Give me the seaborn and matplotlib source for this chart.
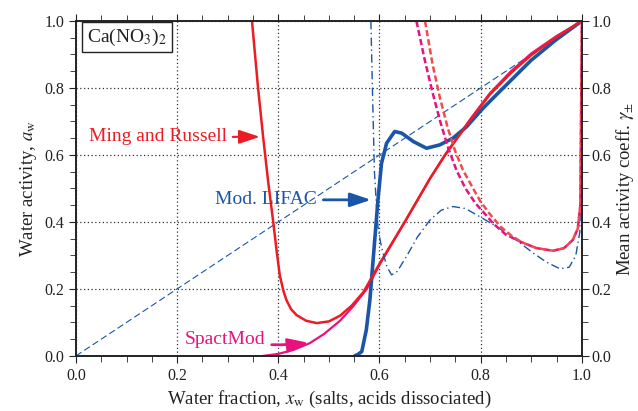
import numpy as np
import pandas as pd
import matplotlib
matplotlib.use("Agg")
import matplotlib.pyplot as plt
from matplotlib.ticker import MultipleLocator
import seaborn as sns

# --- data ---
# water activity curves (left axis)
ideal_x = [0.0, 1.0]
ideal_y = [0.0, 1.0]

ming_x = [0.348, 0.360, 0.370, 0.380, 0.390, 0.397, 0.403, 0.410, 0.416, 0.425, 0.436,
          0.455, 0.476, 0.500, 0.522, 0.545, 0.568, 0.600, 0.650, 0.700, 0.730, 0.780,
          0.818, 0.860, 0.900, 0.950, 1.000]
ming_y = [1.000, 0.800, 0.654, 0.520, 0.400, 0.310, 0.240, 0.195, 0.167, 0.140, 0.122,
          0.105, 0.098, 0.103, 0.120, 0.150, 0.190, 0.275, 0.400, 0.530, 0.600, 0.705,
          0.780, 0.845, 0.898, 0.952, 1.000]

spact_x = [0.370, 0.400, 0.430, 0.462, 0.490, 0.522, 0.548, 0.575, 0.600, 0.650, 0.700,
           0.730, 0.780, 0.818, 0.860, 0.900, 0.950, 1.000]
spact_y = [0.000, 0.006, 0.018, 0.038, 0.065, 0.105, 0.148, 0.200, 0.272, 0.400, 0.530,
           0.602, 0.708, 0.784, 0.850, 0.903, 0.955, 1.000]

lifac_x = [0.551, 0.558, 0.565, 0.574, 0.581, 0.589, 0.597, 0.604, 0.614, 0.630, 0.644,
           0.667, 0.693, 0.719, 0.745, 0.772, 0.805, 0.838, 0.870, 0.900, 0.950, 1.000]
lifac_y = [0.000, 0.005, 0.013, 0.078, 0.167, 0.316, 0.466, 0.575, 0.635, 0.670, 0.665,
           0.640, 0.620, 0.630, 0.650, 0.684, 0.740, 0.790, 0.838, 0.883, 0.945, 1.000]

# mean activity coefficient curves (right axis)
lifac_g_x = [0.583, 0.586, 0.590, 0.594, 0.597, 0.602, 0.607, 0.615, 0.624, 0.635, 0.653,
             0.675, 0.700, 0.722, 0.745, 0.770, 0.798, 0.825, 0.851, 0.878, 0.904, 0.930,
             0.957, 0.975, 0.988, 0.996, 0.999, 1.000]
lifac_g_y = [1.000, 0.800, 0.550, 0.450, 0.386, 0.340, 0.307, 0.265, 0.242, 0.252, 0.296,
             0.355, 0.406, 0.435, 0.446, 0.440, 0.416, 0.392, 0.367, 0.337, 0.307, 0.280,
             0.260, 0.265, 0.300, 0.370, 0.600, 1.000]

ming_g_x = [0.690, 0.705, 0.719, 0.735, 0.750, 0.765, 0.785, 0.800, 0.820, 0.840, 0.860,
            0.880, 0.910, 0.943, 0.965, 0.982, 0.992, 0.997, 1.000]
ming_g_y = [1.000, 0.870, 0.774, 0.680, 0.610, 0.555, 0.500, 0.460, 0.420, 0.385, 0.360,
            0.340, 0.322, 0.314, 0.322, 0.346, 0.380, 0.450, 1.000]

spact_g_x = [0.673, 0.690, 0.706, 0.720, 0.736, 0.752, 0.770, 0.790, 0.805, 0.825, 0.850,
             0.880, 0.910, 0.943, 0.965, 0.982, 0.992, 0.997, 1.000]
spact_g_y = [1.000, 0.880, 0.780, 0.700, 0.620, 0.555, 0.500, 0.455, 0.430, 0.395, 0.362,
             0.340, 0.322, 0.314, 0.322, 0.346, 0.380, 0.450, 1.000]

tick_vals = [0.0, 0.2, 0.4, 0.6, 0.8, 1.0]

RED = "#ec1c24"
BLUE = "#1a55a8"
MAGENTA = "#e8127f"

sns.set_style("ticks")
plt.rcParams["font.family"] = ["Liberation Serif", "DejaVu Serif"]
plt.rcParams["mathtext.fontset"] = "stix"
plt.rcParams["xtick.direction"] = "out"
plt.rcParams["ytick.direction"] = "out"

fig = plt.figure(figsize=(6.38, 4.11), dpi=100)
ax = fig.add_axes([0.119, 0.134, 0.793, 0.815])
ax2 = ax.twinx()

def draw(a, x, y, **kw):
    df = pd.DataFrame({"x": x, "y": y})
    sns.lineplot(data=df, x="x", y="y", ax=a, sort=False, estimator=None, **kw)

draw(ax, ideal_x, ideal_y, color=BLUE, lw=0.8, dashes=(6, 3))
draw(ax, spact_x, spact_y, color=MAGENTA, lw=1.6)
draw(ax, lifac_x, lifac_y, color=BLUE, lw=2.6)
draw(ax, ming_x, ming_y, color=RED, lw=1.8)

draw(ax2, lifac_g_x, lifac_g_y, color=BLUE, lw=1.0, dashes=(6, 2.5, 1, 2.5))
draw(ax2, spact_g_x, spact_g_y, color=MAGENTA, lw=1.8, dashes=(2.5, 1.2))
draw(ax2, ming_g_x, ming_g_y, color="#f04a4a", lw=1.8, dashes=(2.5, 1.2))

labels = [f"{v:.1f}" for v in tick_vals]
for a in (ax, ax2):
    a.set_xlim(0, 1)
    a.set_ylim(0, 1)
    a.set_yticks(tick_vals)
    a.set_yticklabels(labels)
    a.yaxis.set_minor_locator(MultipleLocator(0.05))
ax.set_xticks(tick_vals)
ax.set_xticklabels(labels)
ax.xaxis.set_minor_locator(MultipleLocator(0.05))
ax.tick_params(which="both", top=True, labelsize=11.5, colors="#222222")
ax.tick_params(which="major", length=5)
ax.tick_params(which="minor", length=4)
ax2.tick_params(which="major", length=5, labelsize=11.5, colors="#222222", pad=2)
ax2.tick_params(which="minor", length=4)
ax.grid(True, which="major", color="#333333", linestyle=(0, (1, 2)), lw=0.9)

for a in (ax, ax2):
    for s in a.spines.values():
        s.set_linewidth(1.2)
        s.set_color("#222222")

ax.set_xlabel("Water fraction, $x_{\\rm w}$ (salts, acids dissociated)", fontsize=13.5,
              color="#222222", labelpad=4)
ax.set_ylabel("Water activity, $a_{\\rm w}$", fontsize=13.5, color="#222222")
ax2.set_ylabel("Mean activity coeff. $\\gamma_{\\pm}$", fontsize=13.5, color="#222222",
               labelpad=2)

ax.text(0.022, 0.952, "Ca(NO$_3$)$_2$", fontsize=14, color="#222222", va="center", ha="left",
        bbox=dict(boxstyle="square,pad=0.25", fc="white", ec="#222222", lw=1.0))

arrow = dict(arrowstyle="-|>,head_length=0.9,head_width=0.3", lw=1.5)
ax.annotate("Ming and Russell", xy=(0.369, 0.654), xytext=(0.298, 0.654),
            fontsize=14, color=RED, ha="right", va="center",
            arrowprops=dict(arrow, color=RED))
ax.annotate("Mod. LIFAC", xy=(0.589, 0.466), xytext=(0.477, 0.466),
            fontsize=14, color=BLUE, ha="right", va="center",
            arrowprops=dict(arrow, color=BLUE, lw=2))
ax.annotate("SpactMod", xy=(0.466, 0.04), xytext=(0.375, 0.048),
            fontsize=14, color=MAGENTA, ha="right", va="center",
            arrowprops=dict(arrow, color=MAGENTA, lw=2,
                            connectionstyle="arc3,rad=0.08"))

fig.savefig("out.png", dpi=100)
